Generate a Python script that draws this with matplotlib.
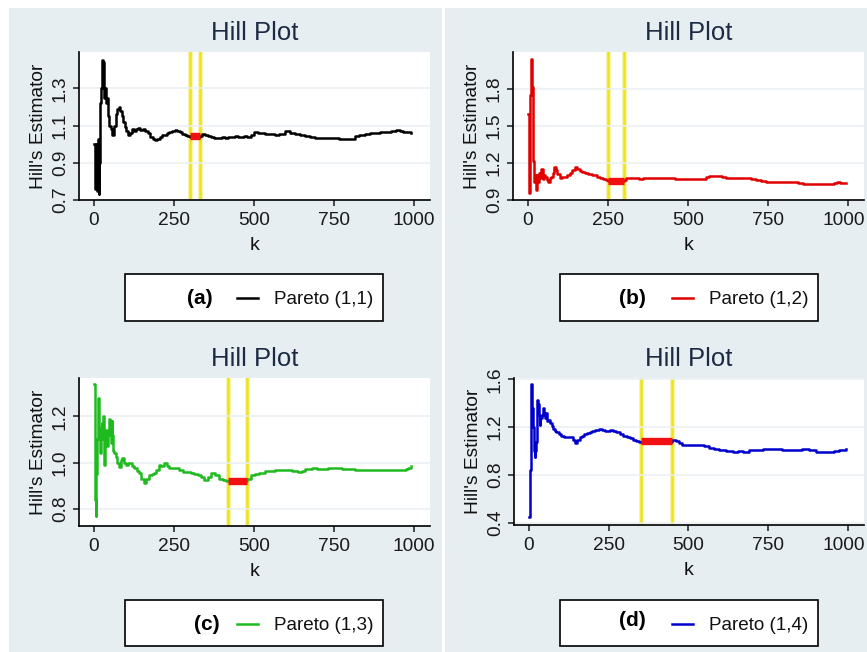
import matplotlib
matplotlib.use("Agg")
import matplotlib.pyplot as plt
import matplotlib.transforms as mtransforms
from matplotlib.patches import Rectangle
from matplotlib.lines import Line2D

plt.rcParams['font.family'] = ['Liberation Sans', 'DejaVu Sans']

# ---------------- data ----------------
k_a = [1, 2, 4, 6, 8, 11, 14, 17, 20, 23, 25, 27, 29, 31, 34, 37, 40, 44, 48, 52, 57, 62, 68, 73, 77, 81, 86,
       91, 96, 101, 106, 112, 118, 125, 131, 138, 145, 152, 160, 168, 176, 183, 190, 197, 205, 212, 220, 228,
       236, 244, 252, 260, 268, 276, 284, 292, 300, 330, 338, 346, 355, 365, 376, 388, 400, 410, 420, 430, 440,
       450, 460, 470, 480, 490, 501, 512, 523, 535, 550, 566, 580, 597, 612, 629, 645, 660, 675, 691, 706, 722,
       738, 754, 765, 775, 788, 801, 816, 830, 847, 862, 878, 894, 910, 928, 946, 956, 967, 980, 991]
h_a = [1.00, 0.98, 0.76, 1.00, 0.75, 1.03, 0.73, 0.90, 1.22, 1.30, 1.45, 1.38, 1.44, 1.25, 1.30, 1.22, 1.25,
       1.15, 1.10, 1.08, 1.05, 1.10, 1.16, 1.19, 1.20, 1.18, 1.15, 1.12, 1.09, 1.07, 1.05, 1.06, 1.08, 1.07,
       1.08, 1.085, 1.075, 1.08, 1.07, 1.06, 1.04, 1.03, 1.02, 1.03, 1.04, 1.05, 1.05, 1.06, 1.065, 1.07, 1.075,
       1.07, 1.065, 1.055, 1.05, 1.045, 1.04, 1.045, 1.052, 1.05, 1.045, 1.04, 1.035, 1.035, 1.037, 1.035, 1.04,
       1.038, 1.042, 1.04, 1.038, 1.042, 1.04, 1.05, 1.065, 1.06, 1.062, 1.057, 1.052, 1.05, 1.055, 1.068, 1.062,
       1.057, 1.05, 1.045, 1.04, 1.035, 1.034, 1.034, 1.033, 1.034, 1.03, 1.027, 1.026, 1.027, 1.045, 1.05,
       1.057, 1.06, 1.062, 1.064, 1.066, 1.072, 1.078, 1.072, 1.066, 1.064, 1.062]

k_b = [1, 3, 5, 7, 9, 11, 13, 14, 16, 18, 21, 24, 26, 28, 31, 34, 37, 42, 46, 50, 53, 58, 63, 68, 72, 77, 82,
       87, 92, 100, 107, 115, 123, 131, 138, 146, 154, 162, 170, 178, 188, 199, 207, 215, 225, 236, 245, 250,
       300, 306, 312, 325, 335, 348, 360, 372, 385, 400, 416, 432, 445, 460, 474, 490, 505, 516, 530, 546, 556,
       567, 580, 593, 606, 619, 635, 650, 666, 682, 698, 713, 730, 745, 755, 770, 785, 797, 812, 828, 845, 860,
       880, 902, 922, 944, 958, 965, 975, 990, 996]
h_b = [1.60, 0.96, 1.62, 1.75, 2.04, 1.95, 1.82, 1.32, 1.22, 1.05, 1.10, 1.02, 0.98, 1.10, 1.05, 1.12, 1.08,
       1.15, 1.07, 1.10, 1.09, 1.06, 1.05, 1.08, 1.09, 1.12, 1.17, 1.14, 1.11, 1.08, 1.085, 1.09, 1.10, 1.12,
       1.14, 1.165, 1.15, 1.135, 1.13, 1.12, 1.11, 1.105, 1.10, 1.09, 1.08, 1.07, 1.06, 1.055, 1.06, 1.075,
       1.08, 1.077, 1.075, 1.073, 1.075, 1.075, 1.078, 1.08, 1.078, 1.076, 1.075, 1.074, 1.073, 1.072, 1.073,
       1.07, 1.072, 1.073, 1.085, 1.097, 1.095, 1.097, 1.09, 1.078, 1.08, 1.078, 1.076, 1.078, 1.072, 1.065,
       1.055, 1.048, 1.043, 1.044, 1.05, 1.05, 1.047, 1.046, 1.038, 1.032, 1.032, 1.032, 1.032, 1.032, 1.036,
       1.046, 1.035, 1.035, 1.035]

k_c = [1, 3, 5, 7, 10, 13, 15, 17, 20, 22, 24, 26, 28, 30, 32, 35, 37, 40, 42, 45, 47, 50, 52, 55, 57, 59, 63,
       68, 73, 78, 83, 89, 94, 99, 107, 115, 120, 125, 133, 141, 148, 157, 164, 172, 180, 188, 195, 203, 211,
       219, 227, 235, 245, 256, 266, 277, 290, 303, 314, 324, 334, 344, 355, 365, 378, 391, 402, 412, 420, 480,
       490, 503, 516, 535, 550, 566, 580, 597, 618, 639, 650, 660, 681, 697, 712, 733, 754, 775, 796, 815, 837,
       858, 879, 900, 921, 942, 962, 975, 983, 991]
h_c = [1.34, 0.84, 0.77, 0.95, 1.10, 1.28, 1.20, 1.15, 1.04, 1.12, 1.17, 1.10, 1.20, 1.08, 0.99, 1.08, 1.14,
       1.10, 1.07, 1.13, 1.19, 1.12, 1.085, 1.18, 1.12, 1.05, 1.04, 1.025, 1.00, 0.98, 1.01, 1.02, 1.00, 0.99,
       1.00, 0.997, 0.985, 0.976, 0.965, 0.954, 0.93, 0.913, 0.93, 0.946, 0.95, 0.954, 0.97, 0.99, 0.985, 0.997,
       0.985, 0.975, 0.978, 0.975, 0.968, 0.96, 0.958, 0.954, 0.95, 0.946, 0.937, 0.927, 0.94, 0.954, 0.945,
       0.93, 0.925, 0.92, 0.922, 0.93, 0.946, 0.95, 0.954, 0.962, 0.966, 0.968, 0.968, 0.968, 0.962, 0.958,
       0.965, 0.972, 0.977, 0.974, 0.972, 0.976, 0.979, 0.974, 0.972, 0.97, 0.968, 0.968, 0.968, 0.968, 0.968,
       0.967, 0.968, 0.972, 0.979, 0.985]

k_d = [1, 4, 7, 9, 11, 13, 15, 17, 18, 20, 22, 25, 27, 29, 31, 33, 36, 40, 44, 47, 49, 52, 55, 60, 66, 71, 76,
       81, 86, 94, 102, 110, 118, 126, 133, 138, 143, 151, 159, 167, 174, 182, 190, 198, 206, 214, 221, 229,
       237, 245, 253, 263, 274, 285, 295, 306, 316, 327, 337, 345, 350, 450, 460, 470, 481, 495, 512, 534, 550,
       566, 580, 597, 618, 639, 655, 670, 691, 712, 733, 754, 774, 795, 816, 836, 857, 878, 899, 920, 941, 957,
       972, 985, 996]
h_d = [0.45, 0.84, 1.56, 1.45, 1.36, 1.20, 1.14, 1.00, 0.95, 1.00, 1.08, 1.43, 1.42, 1.39, 1.30, 1.22, 1.275,
       1.30, 1.36, 1.32, 1.275, 1.32, 1.25, 1.26, 1.236, 1.21, 1.183, 1.17, 1.156, 1.14, 1.128, 1.12, 1.114,
       1.118, 1.114, 1.09, 1.072, 1.09, 1.114, 1.13, 1.147, 1.15, 1.156, 1.165, 1.175, 1.18, 1.183, 1.178, 1.17,
       1.172, 1.175, 1.168, 1.156, 1.14, 1.128, 1.115, 1.106, 1.095, 1.086, 1.08, 1.078, 1.09, 1.086, 1.07,
       1.05, 1.05, 1.05, 1.053, 1.045, 1.03, 1.02, 1.008, 1.002, 0.997, 0.998, 0.997, 1.008, 1.012, 1.017,
       1.017, 1.017, 1.012, 1.008, 1.012, 1.017, 1.008, 0.997, 0.997, 0.997, 1.003, 1.008, 1.012, 1.017]

# chosen window (yellow lines) and the estimate over it (red band)
win_a, band_a = [300, 330], [1.042, 1.042]
win_b, band_b = [250, 300], [1.052, 1.052]
win_c, band_c = [420, 480], [0.923, 0.923]
win_d, band_d = [350, 450], [1.083, 1.083]

yt_a = [0.7, 0.9, 1.1, 1.3]
yt_b = [0.9, 1.2, 1.5, 1.8]
yt_c = [0.8, 1.0, 1.2]
yt_d = [0.4, 0.8, 1.2, 1.6]
ytl_a = ["0.7", "0.9", "1.1", "1.3"]
ytl_b = ["0.9", "1.2", "1.5", "1.8"]
ytl_c = ["0.8", "1.0", "1.2"]
ytl_d = ["0.4", "0.8", "1.2", "1.6"]
xt = [0, 250, 500, 750, 1000]
xtl = ["0", "250", "500", "750", "1000"]

tags = ["(a)", "(b)", "(c)", "(d)"]
names = ["Pareto (1,1)", "Pareto (1,2)", "Pareto (1,3)", "Pareto (1,4)"]

# ---------------- layout ----------------
W, H = 867, 652
BG = '#e6eef1'
GRID = '#e9eff2'
fig = plt.figure(figsize=(W / 100, H / 100), dpi=100, facecolor=BG)

def fx(x):
    return x / W

def fy(y):
    return 1 - y / H

# white page edges / divider
for (x0, y0, x1, y1) in [(0, 0, W, 8), (0, 0, 9, H), (442, 0, 445, H)]:
    fig.add_artist(Rectangle((fx(x0), fy(y1)), (x1 - x0) / W, (y1 - y0) / H,
                             transform=fig.transFigure, facecolor='white', edgecolor='none', zorder=0))

panels = [
    dict(box=(79, 52, 430, 200), k=k_a, h=h_a, col='#000000', win=win_a, band=band_a,
         ylim=(0.7, 1.495), yt=yt_a, ytl=ytl_a, leg=(125, 274, 383, 321), tagx=200, tagy=298,
         liney=298, line=(237, 258), textx=274, texty=299),
    dict(box=(513, 52, 864, 200), k=k_b, h=h_b, col='#e00000', win=win_b, band=band_b,
         ylim=(0.9, 2.1), yt=yt_b, ytl=ytl_b, leg=(560, 274, 818, 321), tagx=632, tagy=298,
         liney=298, line=(672, 693), textx=709, texty=299),
    dict(box=(79, 378, 430, 526), k=k_c, h=h_c, col='#1fba1f', win=win_c, band=band_c,
         ylim=(0.727, 1.365), yt=yt_c, ytl=ytl_c, leg=(125, 600, 383, 646), tagx=207, tagy=624,
         liney=624, line=(237, 258), textx=274, texty=625),
    dict(box=(514, 378, 864, 525), k=k_d, h=h_d, col='#0000cc', win=win_d, band=band_d,
         ylim=(0.384, 1.61), yt=yt_d, ytl=ytl_d, leg=(560, 600, 818, 646), tagx=632, tagy=620,
         liney=624, line=(672, 693), textx=709, texty=625),
]

for i, p in enumerate(panels):
    x0, y0, x1, y1 = p['box']
    ax = fig.add_axes([fx(x0), fy(y1), (x1 - x0) / W, (y1 - y0) / H])
    ax.set_facecolor('white')
    ax.set_xlim(-47, 1051)
    ax.set_ylim(*p['ylim'])
    for s in ['top', 'right']:
        ax.spines[s].set_visible(False)
    for s in ['left', 'bottom']:
        ax.spines[s].set_linewidth(1.2)
        ax.spines[s].set_color('black')

    # yellow window lines
    for w in p['win']:
        ax.axvline(w, color='#f6f2a8', lw=3.4, zorder=1)
        ax.axvline(w, color='#ece41a', lw=1.8, zorder=1.1)
    # grid lines drawn over the yellow lines
    for t in p['yt']:
        ax.axhline(t, color=GRID, lw=1.1, zorder=1.5)

    ax.plot(p['k'], p['h'], color=p['col'], lw=1.8, drawstyle='steps-post', zorder=3)
    ax.plot(p['win'], p['band'], color='#f01010', lw=5.3, solid_capstyle='butt', zorder=4)

    ax.set_xticks(xt)
    ax.set_xticklabels(xtl)
    ax.set_yticks(p['yt'])
    ax.set_yticklabels(p['ytl'])
    ax.tick_params(axis='both', direction='out', length=4.5, width=1.1, labelsize=13.8, colors='#1a1a1a')
    ax.tick_params(axis='x', pad=4.0)
    ax.tick_params(axis='y', pad=2.8)
    plt.setp(ax.get_yticklabels(), rotation=90, va='center', ha='right')
    if x1 > 800:
        # keep the last tick label inside the figure edge
        last = ax.get_xticklabels()[-1]
        last.set_transform(last.get_transform() +
                           mtransforms.ScaledTranslation(-4 / 100, 0, fig.dpi_scale_trans))

    ax.set_xlabel('k', fontsize=14, color='#111111')
    ax.xaxis.set_label_coords(0.5, -37 / (y1 - y0))
    ax.set_ylabel("Hill's Estimator", fontsize=13.8, color='#111111')
    ax.yaxis.set_label_coords(-32 / (x1 - x0), 0.5)
    ax.set_title('Hill Plot', fontsize=18.5, color='#1c2a44', pad=8.6)

    # legend box
    lx0, ly0, lx1, ly1 = p['leg']
    fig.add_artist(Rectangle((fx(lx0), fy(ly1)), (lx1 - lx0) / W, (ly1 - ly0) / H,
                             transform=fig.transFigure, facecolor='white', edgecolor='black',
                             lw=1.2, zorder=2))
    fig.text(fx(p['tagx']), fy(p['tagy']), tags[i], ha='center', va='center',
             fontsize=15, fontweight='bold', color='black', zorder=3)
    fig.add_artist(Line2D([fx(p['line'][0]), fx(p['line'][1])], [fy(p['liney']), fy(p['liney'])],
                          transform=fig.transFigure, color=p['col'], lw=1.8, zorder=3))
    fig.text(fx(p['textx']), fy(p['texty']), names[i], ha='left', va='center',
             fontsize=13.6, color='#111111', zorder=3)

fig.savefig('out.png', dpi=100, facecolor=BG)
